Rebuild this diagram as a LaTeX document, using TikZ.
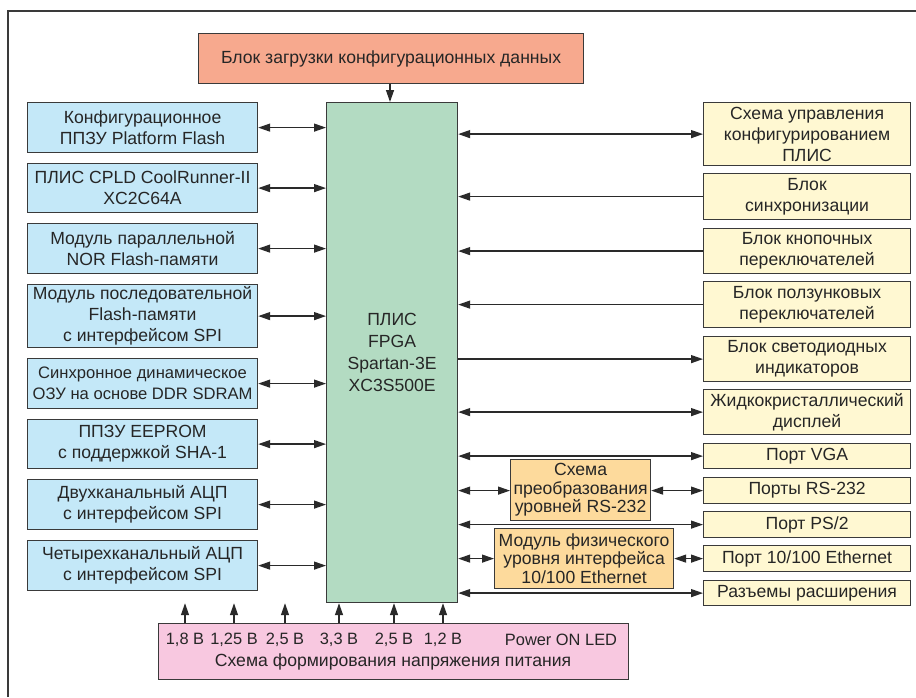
\documentclass[tikz,border=0pt]{standalone}
\usepackage{fontspec}
\setmainfont{Liberation Sans}
\usetikzlibrary{arrows.meta}
\definecolor{bord}{HTML}{3A3A3A}
\definecolor{arrc}{HTML}{2A2A2A}
\definecolor{salmonf}{HTML}{F7A98E}
\definecolor{greenf}{HTML}{B3DBC2}
\definecolor{bluef}{HTML}{C4E8F8}
\definecolor{yellowf}{HTML}{FFF8D2}
\definecolor{orangef}{HTML}{FDDA9C}
\definecolor{pinkf}{HTML}{F8C8E0}
\begin{document}
\begin{tikzpicture}[x=1pt,y=-1pt,
  font=\fontsize{17.6}{21}\selectfont,
  >={Triangle[length=12pt,width=8pt]},
  box/.style={draw=bord, line width=1.2pt, anchor=north west, inner sep=0pt, align=center, text=black!85},
  lbox/.style={box, fill=bluef, minimum width=230pt},
  rbox/.style={box, fill=yellowf, minimum width=207pt},
  obox/.style={box, fill=orangef, font=\fontsize{17.6}{18.5}\selectfont},
  conn/.style={draw=arrc, line width=1.3pt},
  lbl/.style={inner sep=0pt, text=black!85}]
\useasboundingbox (0,0) rectangle (916,697);
\fill[white] (0,0) rectangle (916,697);
% frame
\coordinate (fa) at (8,697);
\coordinate (fb) at (8,11);
\coordinate (fc) at (916,11);
\draw[bord, line width=1.1pt] (fa) -- (fb) -- (fc);

% top block
\node[box, fill=salmonf, minimum width=385pt, minimum height=50pt] (top) at (198,33) {Блок загрузки конфигурационных данных};
% FPGA
\node[box, fill=greenf, minimum width=131pt, minimum height=500pt, font=\fontsize{17.6}{22}\selectfont] (fpga) at (326,102) {ПЛИС\\FPGA\\Spartan-3E\\XC3S500E};
\draw[conn,->] (top.south -| 390,0) -- (fpga.north -| 390,0);

% left boxes
\node[lbox, minimum height=50pt] (l1) at (27,102) {Конфигурационное\\ППЗУ Platform Flash};
\node[lbox, minimum height=49pt] (l2) at (27,163) {ПЛИС CPLD CoolRunner-II\\XC2C64A};
\node[lbox, minimum height=50pt] (l3) at (27,223) {Модуль параллельной\\NOR Flash-памяти};
\node[lbox, minimum height=63pt] (l4) at (27,284) {Модуль последовательной\\Flash-памяти\\с интерфейсом SPI};
\node[lbox, minimum height=50pt, font=\fontsize{16.6}{21}\selectfont] (l5) at (27,358) {Синхронное динамическое\\ОЗУ на основе DDR SDRAM};
\node[lbox, minimum height=49pt] (l6) at (27,419) {ППЗУ EEPROM\\с поддержкой SHA-1};
\node[lbox, minimum height=50pt] (l7) at (27,479) {Двухканальный АЦП\\с интерфейсом SPI};
\node[lbox, minimum height=50pt] (l8) at (27,540) {Четырехканальный АЦП\\с интерфейсом SPI};
\foreach \n in {l1,l2,l3,l4,l5,l6,l7,l8}
  \draw[conn,<->] (\n.east) -- (fpga.west |- \n.east);

% right boxes
\node[rbox, minimum height=63pt] (r1) at (703,102) {Схема управления\\конфигурированием\\ПЛИС};
\node[rbox, minimum height=46pt] (r2) at (703,173) {Блок\\синхронизации};
\node[rbox, minimum height=45pt] (r3) at (703,228) {Блок кнопочных\\переключателей};
\node[rbox, minimum height=46pt] (r4) at (703,281) {Блок ползунковых\\переключателей};
\node[rbox, minimum height=45pt] (r5) at (703,336) {Блок светодиодных\\индикаторов};
\node[rbox, minimum height=45pt] (r6) at (703,389) {Жидкокристаллический\\дисплей};
\node[rbox, minimum height=25pt] (r7) at (703,443) {Порт VGA};
\node[rbox, minimum height=26pt] (r8) at (703,477) {Порты RS-232};
\node[rbox, minimum height=26pt] (r9) at (703,511) {Порт PS/2};
\node[rbox, minimum height=26pt] (r10) at (703,545) {Порт 10/100 Ethernet};
\node[rbox, minimum height=25pt] (r11) at (703,580) {Разъемы расширения};

\draw[conn,<->] (fpga.east |- r1.west) -- (r1.west);
\draw[conn,<-] (fpga.east |- r2.west) -- (r2.west);
\draw[conn,<-] (fpga.east |- r3.west) -- (r3.west);
\draw[conn,<-] (fpga.east |- r4.west) -- (r4.west);
\draw[conn,->] (fpga.east |- r5.west) -- (r5.west);
\draw[conn,<->] (fpga.east |- r6.west) -- (r6.west);
\draw[conn,<->] (fpga.east |- r7.west) -- (r7.west);
\draw[conn,<->] (fpga.east |- r9.west) -- (r9.west);
\draw[conn,<->] (fpga.east |- r11.west) -- (r11.west);

% middle interface boxes
\node[obox, minimum width=140pt, minimum height=61pt] (conv) at (510,459) {Схема\\преобразования\\уровней RS-232};
\node[obox, minimum width=179pt, minimum height=60pt] (phy) at (494,528) {Модуль физического\\уровня интерфейса\\10/100 Ethernet};
\draw[conn,<->] (fpga.east |- r8.west) -- (conv.west |- r8.west);
\draw[conn,<->] (conv.east |- r8.west) -- (r8.west);
\draw[conn,<->] (fpga.east |- r10.west) -- (phy.west |- r10.west);
\draw[conn,<->] (phy.east |- r10.west) -- (r10.west);

% power block
\node[box, fill=pinkf, minimum width=470pt, minimum height=56pt] (pwr) at (158,623) {};
\begin{scope}[font=\fontsize{16.4}{20}\selectfont]
\node[lbl] (v1) at (185,640) {1,8 В};
\node[lbl] (v2) at (234,640) {1,25 В};
\node[lbl] (v3) at (285,640) {2,5 В};
\node[lbl] (v4) at (339,640) {3,3 В};
\node[lbl] (v5) at (394,640) {2,5 В};
\node[lbl] (v6) at (443,640) {1,2 В};
\node[lbl] (led) at (561,640) {Power ON LED};
\end{scope}
\node[lbl] (ptitle) at (393,662) {Схема формирования напряжения питания};
\foreach \v in {v1,v2,v3,v4,v5,v6}
  \draw[conn,->] (pwr.north -| \v) -- (fpga.south -| \v);
\end{tikzpicture}
\end{document}
